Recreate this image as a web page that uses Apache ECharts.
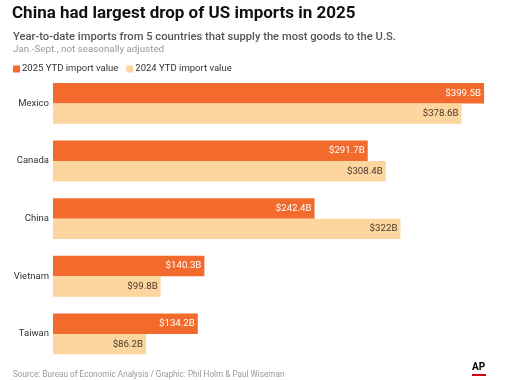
<!DOCTYPE html>
<html>
<head>
<meta charset="utf-8">
<script src="https://cdn.jsdelivr.net/npm/echarts@6/dist/echarts.min.js"></script>
<style>
html,body{margin:0;padding:0;background:#fff;}
#c{width:507px;height:380px;}
</style>
</head>
<body>
<div id="c"></div>
<script>
const countries = ['Mexico', 'Canada', 'China', 'Vietnam', 'Taiwan'];
const seriesNames = ['2025 YTD import value', '2024 YTD import value'];
const values2025 = [399.5, 291.7, 242.4, 140.3, 134.2];
const values2024 = [378.6, 308.4, 322, 99.8, 86.2];

const FONT = 'Roboto';
const chart = echarts.init(document.getElementById('c'), null, {renderer: 'canvas'});
const fmt = p => '$' + p.value + 'B';
chart.setOption({
  animation: false,
  backgroundColor: '#fff',
  textStyle: {fontFamily: FONT},
  title: [
    {text: 'China had largest drop of US imports in 2025', left: 7, top: 0,
     textStyle: {fontFamily: FONT, fontSize: 17, fontWeight: 'bold', color: '#111'}},
    {text: 'Year-to-date imports from 5 countries that supply the most goods to the U.S.', left: 8, top: 27,
     textStyle: {fontFamily: FONT, fontSize: 11.2, fontWeight: 500, color: '#555'}},
    {text: 'Jan.-Sept., not seasonally adjusted', left: 8, top: 40,
     textStyle: {fontFamily: FONT, fontSize: 9.8, fontWeight: 'normal', color: '#999'}},
    {text: 'Source: Bureau of Economic Analysis / Graphic: Phil Holm & Paul Wiseman', left: 8, top: 366,
     textStyle: {fontFamily: FONT, fontSize: 8.2, fontWeight: 'normal', color: '#999'}}
  ],
  legend: {
    data: seriesNames, left: 8, top: 59, icon: 'rect', itemWidth: 7, itemHeight: 7, itemGap: 8,
    textStyle: {fontFamily: FONT, fontSize: 9.5, color: '#333', padding: [0,0,0,-3]},
    selectedMode: false
  },
  grid: {left: 53, right: 22.4, top: 74.6, bottom: 17.3, containLabel: false},
  xAxis: {type: 'value', min: 0, max: 400, show: false},
  yAxis: {
    type: 'category', data: countries, inverse: true,
    axisLine: {show: false}, axisTick: {show: false},
    axisLabel: {fontFamily: FONT, fontSize: 9.5, color: '#333', margin: 4}
  },
  series: [
    {name: seriesNames[0], type: 'bar', data: values2025, barGap: '0%', barCategoryGap: '29%',
     itemStyle: {color: '#F26B2C'},
     label: {show: true, position: 'insideRight', distance: 3, formatter: fmt, color: '#fff', fontSize: 9.7, fontFamily: FONT}},
    {name: seriesNames[1], type: 'bar', data: values2024, barGap: '0%', barCategoryGap: '29%',
     itemStyle: {color: '#FDD59E'},
     label: {show: true, position: 'insideRight', distance: 3, formatter: fmt, color: '#4a3a2a', fontSize: 9.7, fontFamily: FONT}}
  ],
  graphic: [
    {type: 'text', left: 472, top: 362, style: {text: 'AP', font: 'bold 10px Roboto', fill: '#000'}},
    {type: 'rect', left: 472, top: 374, shape: {width: 14, height: 2}, style: {fill: '#d0021b'}}
  ]
});
</script>
</body>
</html>
